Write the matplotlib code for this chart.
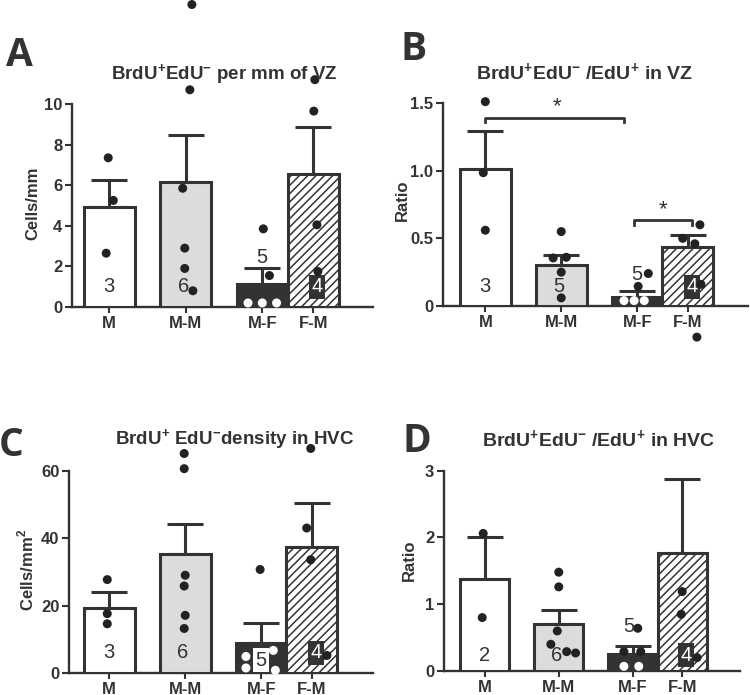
import matplotlib
matplotlib.use("Agg")
import matplotlib.pyplot as plt
from matplotlib import transforms

plt.rcParams['font.family'] = ['Liberation Sans', 'DejaVu Sans']
plt.rcParams['mathtext.fontset'] = 'custom'
plt.rcParams['mathtext.rm'] = 'Liberation Sans'
plt.rcParams['mathtext.bf'] = 'Liberation Sans:bold'
plt.rcParams['hatch.linewidth'] = 1.1

# ---------------- data ----------------
groups = ["M", "M-M", "M-F", "F-M"]

A_mean = [4.95, 6.15, 1.15, 6.55]
A_sem = [1.30, 2.30, 0.75, 2.30]
A_pts = [[7.35, 5.25, 2.65],
         [14.9, 10.7, 5.85, 2.9, 1.9, 0.8],
         [3.85, 1.55, 0.2, 0.2, 0.2],
         [11.2, 9.65, 4.05, 1.75]]
A_n = ["3", "6", "5", "4"]

B_mean = [1.015, 0.30, 0.07, 0.435]
B_sem = [0.275, 0.075, 0.04, 0.09]
B_pts = [[1.51, 0.985, 0.56],
         [0.55, 0.355, 0.36, 0.25, 0.06],
         [0.24, 0.145, 0.04, 0.04, 0.04],
         [0.60, 0.50, 0.46, 0.16, -0.23]]
B_n = ["3", "5", "5", "4"]

C_mean = [19.2, 35.2, 9.0, 37.5]
C_sem = [4.9, 9.1, 5.7, 12.9]
C_pts = [[27.7, 17.6, 14.6],
         [65.1, 60.6, 29.0, 25.8, 17.1, 13.2],
         [30.7, 4.9, 1.5, 6.7, 0.8],
         [66.6, 43.0, 33.6, 5.2]]
C_n = ["3", "6", "5", "4"]

D_mean = [1.38, 0.70, 0.25, 1.76]
D_sem = [0.62, 0.22, 0.12, 1.11]
D_pts = [[2.06, 0.80],
         [1.48, 1.26, 0.60, 0.40, 0.29, 0.27],
         [0.64, 0.29, 0.29, 0.07, 0.07],
         [1.19, 0.85, 0.20]]
D_n = ["2", "6", "5", "4"]

# ---------------- layout / style ----------------
xpos = [0.0, 1.5, 3.0, 4.0]
DARK = '#333333'

A_jit = [[-0.02, 0.08, -0.06], [0.12, 0.08, -0.06, -0.02, -0.02, 0.14],
         [0.02, 0.14, -0.28, 0.0, 0.28], [0.03, 0.01, 0.07, 0.09]]
B_jit = [[0.0, -0.04, 0.0], [0.0, -0.16, 0.10, 0.0, 0.0],
         [0.22, 0.02, -0.26, -0.06, 0.14], [0.24, -0.10, 0.14, 0.26, 0.18]]
C_jit = [[-0.04, -0.04, -0.04], [-0.02, -0.02, 0.0, -0.02, 0.0, -0.02],
         [-0.02, -0.30, -0.30, 0.24, 0.28], [-0.02, -0.10, -0.02, 0.30]]
D_jit = [[-0.03, -0.05], [0.0, 0.0, -0.03, -0.16, 0.16, 0.34],
         [0.10, -0.18, 0.16, -0.18, 0.12], [0.0, -0.02, 0.30]]

W, H = 750, 695
fig = plt.figure(figsize=(7.5, 6.95), dpi=100)


def make_ax(left, right, y0px, ytop_px, xl, xr):
    ax = fig.add_axes([left / W, 1 - y0px / H, (right - left) / W, (y0px - ytop_px) / H])
    ax.set_xlim(xl, xr)
    return ax


def panel(ax, means, sems, pts, jit, ns, ylim, yticks, yticklabels, ylabel,
          ylab_xy, nlab_y, five_xy, five_box):
    fills = ['white', '#dcdcdc', DARK, 'white']
    hatches = [None, None, None, '////']
    for i in range(4):
        ax.errorbar(xpos[i], means[i], yerr=[[0], [sems[i]]], fmt='none',
                    ecolor=DARK, elinewidth=2.2, capsize=13, capthick=2.2, zorder=2)
        ax.bar(xpos[i], means[i], width=1.0, color=fills[i], edgecolor=DARK,
               linewidth=2.2, hatch=hatches[i], zorder=3)
        for v, j in zip(pts[i], jit[i]):
            col = 'white' if (i == 2 and v < means[i] - 0.02 * ylim[1]) else '#222222'
            ax.scatter(xpos[i] + j, v, s=42, color=col, edgecolors='none',
                       zorder=6, clip_on=False)
    trans = transforms.blended_transform_factory(ax.transData, ax.transAxes)
    # counts
    ax.text(xpos[0], nlab_y, ns[0], transform=trans, ha='center', va='center',
            fontsize=14.5, color=DARK, zorder=7)
    ax.text(xpos[1] - 0.05, nlab_y, ns[1], transform=trans, ha='center', va='center',
            fontsize=14.5, color=DARK, zorder=5)
    fkw = dict(transform=trans, ha='center', va='center', fontsize=14.5, color=DARK, zorder=7)
    if five_box:
        fkw['bbox'] = dict(boxstyle='square,pad=0.12', fc='white', ec='none')
    ax.text(xpos[2] + five_xy[0], five_xy[1], ns[2], **fkw)
    ax.text(xpos[3] + 0.08, nlab_y, ns[3], transform=trans, ha='center', va='center',
            fontsize=14.5, color='white', zorder=5,
            bbox=dict(boxstyle='square,pad=0.12', fc=DARK, ec='none'))

    ax.set_ylim(*ylim)
    ax.set_yticks(yticks)
    ax.set_yticklabels(yticklabels)
    ax.set_xticks(xpos)
    ax.set_xticklabels(groups)
    for s in ['top', 'right']:
        ax.spines[s].set_visible(False)
    for s in ['left', 'bottom']:
        ax.spines[s].set_linewidth(1.7)
        ax.spines[s].set_color(DARK)
    ax.tick_params(axis='y', length=5, width=1.5, colors=DARK, labelsize=12, pad=2)
    ax.tick_params(axis='x', length=4, width=1.5, colors=DARK, labelsize=12, pad=2.5)
    for lab in ax.get_xticklabels() + ax.get_yticklabels():
        lab.set_fontweight('bold')
    ax.text(ylab_xy[0], ylab_xy[1], ylabel, transform=ax.transAxes, rotation=90,
            ha='center', va='center', fontsize=12, fontweight='bold', color=DARK)


# Panel A
axA = make_ax(72, 373, 307, 104, -0.73, 5.17)
panel(axA, A_mean, A_sem, A_pts, A_jit, A_n, (0, 10), [0, 2, 4, 6, 8, 10],
      ['0', '2', '4', '6', '8', '10'], 'Cells/mm', (-0.13, 0.51), 0.099, (0.0, 0.245), False)

# Panel B
axB = make_ax(443, 748, 306, 103, -0.836, 5.19)
panel(axB, B_mean, B_sem, B_pts, B_jit, B_n, (0, 1.5), [0, 0.5, 1.0, 1.5],
      ['0', '0.5', '1.0', '1.5'], 'Ratio', (-0.134, 0.52), 0.094, (0.0, 0.155), False)
# significance brackets
br1 = [0.0, 2.74]
axB.plot([br1[0], br1[0], br1[1], br1[1]], [1.36, 1.387, 1.387, 1.36], color=DARK,
         lw=2.0, clip_on=False, zorder=4)
axB.text(sum(br1) / 2 + 0.05, 1.47, '*', ha='center', va='center', fontsize=16, color=DARK)
br2 = [2.93, 4.08]
axB.plot([br2[0], br2[0], br2[1], br2[1]], [0.60, 0.636, 0.636, 0.60], color=DARK,
         lw=2.0, clip_on=False, zorder=4)
axB.text(sum(br2) / 2, 0.71, '*', ha='center', va='center', fontsize=16, color=DARK)

# Panel C
axC = make_ax(69, 373, 673, 470.7, -0.796, 5.21)
panel(axC, C_mean, C_sem, C_pts, C_jit, C_n, (0, 60), [0, 20, 40, 60],
      ['0', '20', '40', '60'], r'Cells/mm$^\mathbf{2}$', (-0.14, 0.51), 0.099, (0.0, 0.064), True)

# Panel D
axD = make_ax(444, 740, 671, 470.7, -0.824, 5.17)
panel(axD, D_mean, D_sem, D_pts, D_jit, D_n, (0, 3), [0, 1, 2, 3],
      ['0', '1', '2', '3'], 'Ratio', (-0.118, 0.555), 0.078, (-0.08, 0.22), False)

# Titles
tkw = dict(ha='center', va='center', color=DARK)
fig.text(224 / W, 1 - 75 / H, r'BrdU$^\mathbf{+}$EdU$^\mathbf{-}$ per mm of VZ',
         fontsize=13.5, fontweight='bold', **tkw)
fig.text(585 / W, 1 - 73 / H, 'BrdU$^\mathbf{+}$EdU$^\mathbf{-}$ /EdU$^\mathbf{+}$ in VZ',
         fontsize=14, fontweight='bold', **tkw)
fig.text(235 / W, 1 - 440 / H, r'BrdU$^\mathbf{+}$ EdU$^\mathbf{-}$density in HVC',
         fontsize=13.5, fontweight='bold', **tkw)
fig.text(599 / W, 1 - 440 / H, 'BrdU$^\mathbf{+}$EdU$^\mathbf{-}$ /EdU$^\mathbf{+}$ in HVC',
         fontsize=14, fontweight='bold', **tkw)

# Panel letters
lkw = dict(ha='center', va='center', color=DARK, fontsize=28, fontweight='bold',
           family='Open Sans')
fig.text(19 / W, 1 - 55 / H, 'A', **lkw)
fig.text(414 / W, 1 - 50 / H, 'B', **lkw)
fig.text(11 / W, 1 - 446 / H, 'C', **lkw)
fig.text(417 / W, 1 - 442 / H, 'D', **lkw)

fig.savefig('out.png', dpi=100)
